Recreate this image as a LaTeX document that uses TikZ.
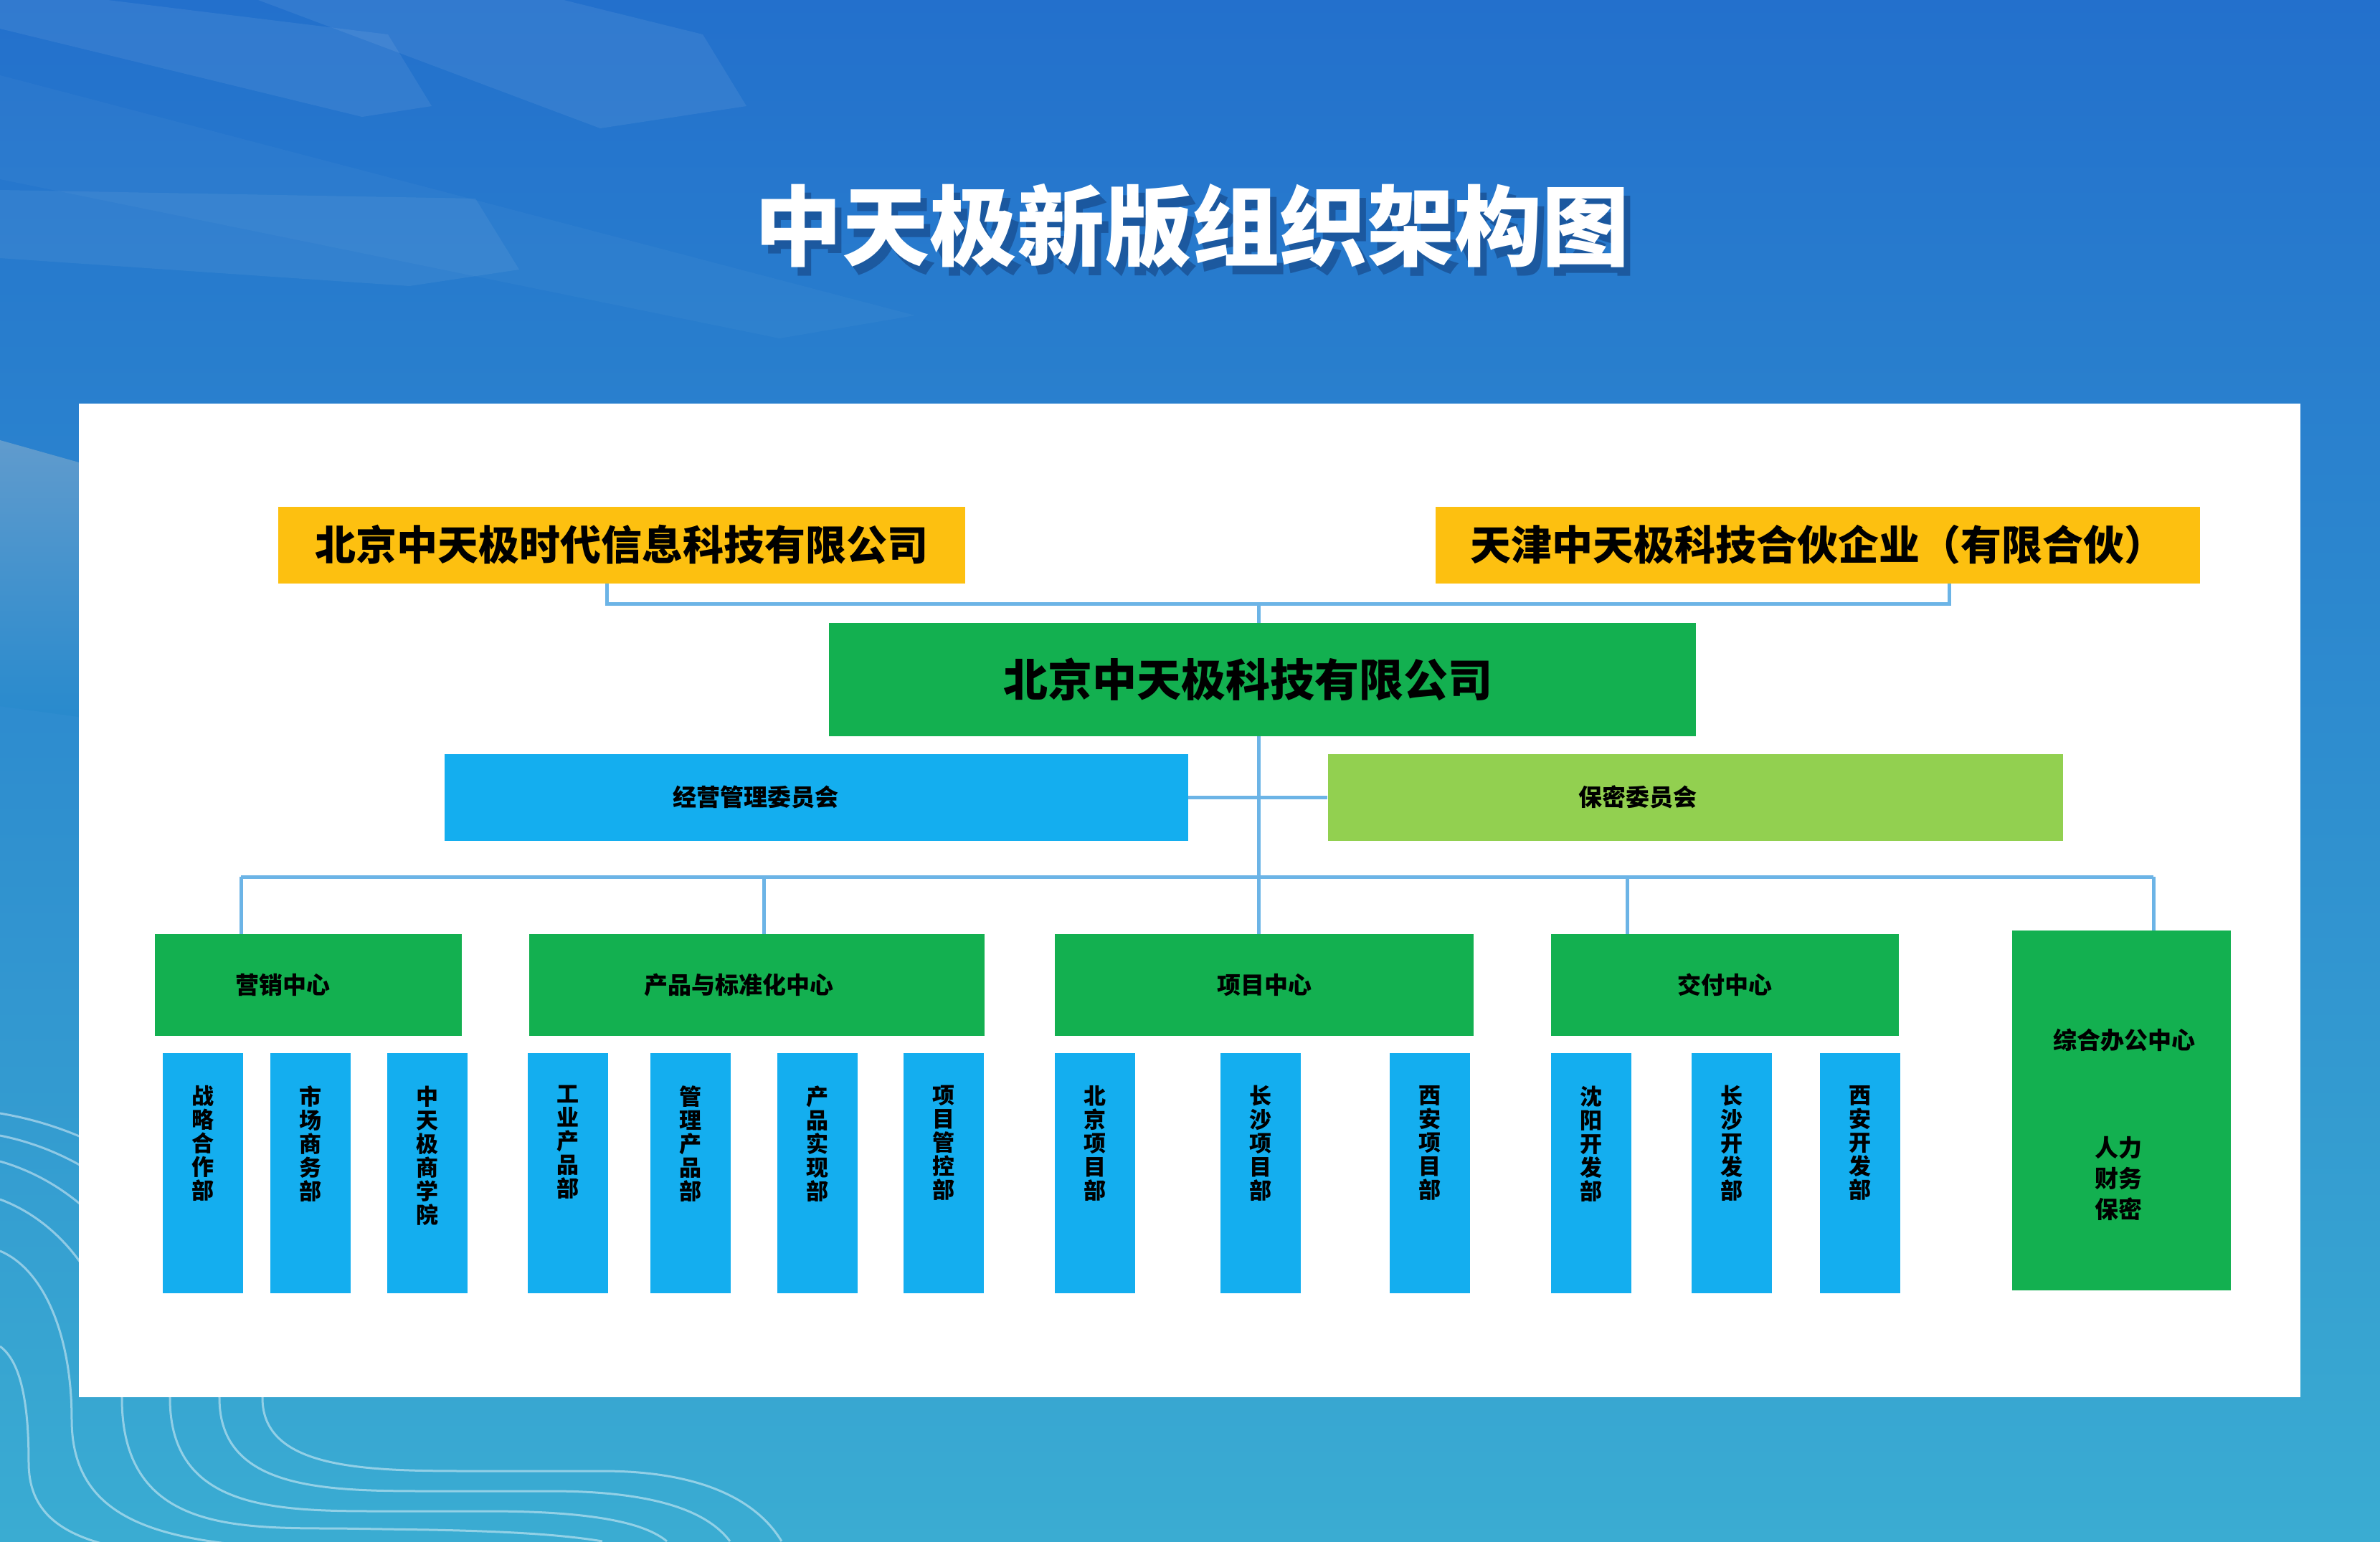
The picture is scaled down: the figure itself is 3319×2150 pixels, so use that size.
\documentclass[tikz,border=0pt]{standalone}
\usepackage{fontspec}
\usetikzlibrary{positioning}
\newfontfamily\cjk{Noto Sans CJK SC}
\definecolor{zhyellow}{RGB}{253,192,16}
\definecolor{zhgreen}{RGB}{19,176,80}
\definecolor{zhblue}{RGB}{20,174,239}
\definecolor{zhlime}{RGB}{146,208,80}
\definecolor{zhline}{RGB}{108,180,230}
\definecolor{bgtop}{RGB}{35,112,204}
\definecolor{bgbot}{RGB}{58,172,210}
\definecolor{shadowblue}{RGB}{12,40,90}

\tikzset{
  titletext/.style={font=\cjk\bfseries\fontsize{122}{128}\selectfont},
  company/.style={fill=zhyellow, minimum height=107pt, inner sep=0pt, font=\cjk\bfseries\fontsize{57}{60}\selectfont},
  head/.style={fill=zhgreen, minimum width=1209pt, minimum height=158pt, inner sep=0pt, font=\cjk\bfseries\fontsize{62}{66}\selectfont},
  board/.style={minimum height=121pt, inner sep=0pt},
  centre/.style={fill=zhgreen, minimum height=142pt, inner sep=0pt, font=\cjk\bfseries\fontsize{33}{36}\selectfont},
  small/.style={inner sep=0pt, font=\cjk\bfseries\fontsize{33}{36}\selectfont},
  dept/.style={fill=zhblue, minimum width=112pt, minimum height=335pt, inner sep=0pt},
  vtext/.style={anchor=north, yshift=-46pt, align=center, inner sep=0pt, font=\cjk\bfseries\fontsize{31}{33}\selectfont},
  link/.style={draw=zhline, line width=5pt},
  wave/.style={draw=white, opacity=.45, line width=3pt},
}

\begin{document}
\begin{tikzpicture}[x=1pt,y=-1pt]
\useasboundingbox (0,0) rectangle (3319,2150);

% background
\shade[top color=bgtop, bottom color=bgbot] (0,0) rectangle (3319,2150);
\fill[white,opacity=.07] (150,0) -- (541,48) -- (602,148) -- (505,163) -- (0,40) -- (0,0) -- cycle;
\fill[white,opacity=.07] (360,0) -- (786,0) -- (980,48) -- (1041,148) -- (837,179) -- cycle;
\fill[white,opacity=.03] (0,105) -- (1276,440) -- (1087,472) -- (0,250) -- cycle;
\fill[white,opacity=.06] (0,265) -- (663,277) -- (724,376) -- (571,399) -- (0,360) -- cycle;
\shade[top color={rgb,255:red,96;green,155;blue,205}, bottom color={rgb,255:red,40;green,138;blue,205}]
  (0,614) -- (110,645) -- (110,1000) -- (0,985) -- cycle;

% waves
\draw[wave] (0,1553) .. controls (220,1590) and (366,1760) .. (366,1950)
  .. controls (366,2052) and (516,2052) .. (666,2052) -- (840,2052)
  .. controls (990,2052) and (1060,2100) .. (1090,2150);
\draw[wave] (0,1584) .. controls (180,1620) and (306,1780) .. (306,1950)
  .. controls (306,2080) and (456,2080) .. (606,2080) -- (768,2080)
  .. controls (918,2080) and (988,2110) .. (1018,2150);
\draw[wave] (0,1620) .. controls (140,1660) and (237,1800) .. (237,1950)
  .. controls (237,2108) and (387,2108) .. (537,2108) -- (680,2108)
  .. controls (830,2108) and (900,2125) .. (930,2150);
\draw[wave] (0,1673) .. controls (100,1710) and (170,1820) .. (170,1950)
  .. controls (170,2132) and (320,2132) .. (470,2132) -- (600,2134)
  .. controls (700,2136) and (780,2140) .. (840,2150);
\draw[wave] (0,1745) .. controls (60,1770) and (100,1860) .. (100,1980)
  .. controls (100,2120) and (220,2150) .. (400,2160);
\draw[wave] (0,1878) .. controls (30,1900) and (40,1960) .. (40,2040)
  .. controls (40,2120) and (100,2150) .. (200,2165);

% title
\node[titletext, text=shadowblue, opacity=.4] at (1671,328) {中天极新版组织架构图};
\node[titletext, text=white] (title) at (1662,316) {中天极新版组织架构图};

% panel
\fill[white] (110,563) rectangle (3208,1949);

% owners
\node[company, minimum width=958pt] (bjsd) at (867,760) {北京中天极时代信息科技有限公司};
\node[company, minimum width=1066pt] (tjhh) at (2535,760) {天津中天极科技合伙企业（有限合伙）};
\node[head, label={[font=\cjk\bfseries\fontsize{62}{66}\selectfont, xshift=-20pt]center:北京中天极科技有限公司}] (zhutj) at (1760,948) {};

% committees
\node[board, fill=zhblue, minimum width=1037pt, label={[small, xshift=-84pt]center:经营管理委员会}] (jygl) at (1138,1112) {};
\node[board, fill=zhlime, minimum width=1025pt, label={[small, xshift=-80pt]center:保密委员会}] (bmwy) at (2364,1112) {};

% centres
\node[centre, minimum width=428pt, label={[small, xshift=-36pt]center:营销中心}] (yxzx) at (430,1374) {};
\node[centre, minimum width=635pt, label={[small, xshift=-25pt]center:产品与标准化中心}] (cpbz) at (1055,1374) {};
\node[centre, minimum width=584pt] (xmzx) at (1763,1374) {项目中心};
\node[centre, minimum width=485pt] (jfzx) at (2405,1374) {交付中心};
\node[centre, minimum width=305pt, minimum height=502pt] (zhbg) at (2958,1549) {};
\node[small, align=center] at (2962,1451) {综合办公中心};
\node[small, align=center, font=\cjk\bfseries\fontsize{33}{43}\selectfont] at (2954,1644) {人力\\财务\\保密};

% departments
\node[dept, label={[vtext]north:{战\\略\\合\\作\\部}}] (zlhz) at (283,1636) {};
\node[dept, label={[vtext]north:{市\\场\\商\\务\\部}}] (scsw) at (433,1636) {};
\node[dept, label={[vtext]north:{中\\天\\极\\商\\学\\院}}] (sxy) at (596,1636) {};
\node[dept, label={[vtext]north:{工\\业\\产\\品\\部}}] (gycp) at (792,1636) {};
\node[dept, label={[vtext]north:{管\\理\\产\\品\\部}}] (glcp) at (963,1636) {};
\node[dept, label={[vtext]north:{产\\品\\实\\现\\部}}] (cpsx) at (1140,1636) {};
\node[dept, label={[vtext]north:{项\\目\\管\\控\\部}}] (xmgk) at (1316,1636) {};
\node[dept, label={[vtext]north:{北\\京\\项\\目\\部}}] (bjxm) at (1527,1636) {};
\node[dept, label={[vtext]north:{长\\沙\\项\\目\\部}}] (csxm) at (1758,1636) {};
\node[dept, label={[vtext]north:{西\\安\\项\\目\\部}}] (xaxm) at (1994,1636) {};
\node[dept, label={[vtext]north:{沈\\阳\\开\\发\\部}}] (sykf) at (2219,1636) {};
\node[dept, label={[vtext]north:{长\\沙\\开\\发\\部}}] (cskf) at (2415,1636) {};
\node[dept, label={[vtext]north:{西\\安\\开\\发\\部}}] (xakf) at (2594,1636) {};

% links
\coordinate (topjoin) at (1755,842);
\coordinate (b1) at (336,1223);
\coordinate (b2) at (1065,1223);
\coordinate (b3) at (1755,1223);
\coordinate (b4) at (2269,1223);
\coordinate (b5) at (3003,1223);

\draw[link] ([xshift=-21pt]bjsd.south) |- (topjoin) -| ([xshift=183pt]tjhh.south);
\draw[link] (topjoin) -- (topjoin |- zhutj.north);
\draw[link] (topjoin |- zhutj.south) -- (b3);
\draw[link] (jygl.east) -- (bmwy.west);
\draw[link] (b1) -- (b5);
\draw[link] (b1) -- (b1 |- yxzx.north);
\draw[link] (b2) -- (b2 |- cpbz.north);
\draw[link] (b3) -- (b3 |- xmzx.north);
\draw[link] (b4) -- (b4 |- jfzx.north);
\draw[link] (b5) -- (b5 |- zhbg.north);
\end{tikzpicture}
\end{document}
